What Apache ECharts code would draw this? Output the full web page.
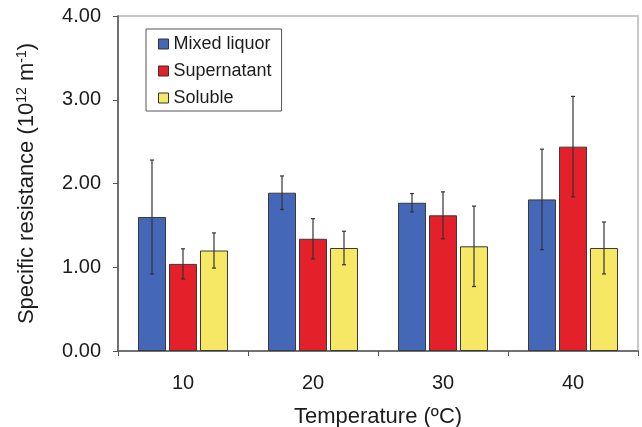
<!DOCTYPE html>
<html>
<head>
<meta charset="utf-8">
<script src="https://cdn.jsdelivr.net/npm/echarts@6/dist/echarts.min.js"></script>
<style>
  html, body { margin: 0; padding: 0; background: #fff; }
  #chart { width: 642px; height: 427px; }
</style>
</head>
<body>
<div id="chart"></div>
<script>
// Specific resistance by temperature, three fractions, with ± error bars
const categories = ['10', '20', '30', '40'];
const seriesNames = ['Mixed liquor', 'Supernatant', 'Soluble'];
const mixedLiquor = [1.60, 1.89, 1.77, 1.81];
const supernatant = [1.04, 1.34, 1.62, 2.44];
const soluble = [1.20, 1.23, 1.25, 1.23];
const mixedLiquorErr = [0.68, 0.20, 0.11, 0.60];
const supernatantErr = [0.18, 0.24, 0.28, 0.60];
const solubleErr = [0.21, 0.20, 0.48, 0.31];
const yTicks = [0, 1, 2, 3, 4];

const colors = ['#4467b8', '#e4202a', '#f6e865'];
const values = [mixedLiquor, supernatant, soluble];
const errors = [mixedLiquorErr, supernatantErr, solubleErr];

const BAR_W = 28;
const BAR_GAP = 3;
const FONT = 'Liberation Sans, Arial, sans-serif';
const INK = '#1c1c1c';

function errorSeries(k) {
  const data = categories.map((c, i) => [i, values[k][i] - errors[k][i], values[k][i] + errors[k][i]]);
  return {
    type: 'custom',
    name: seriesNames[k] + ' error',
    z: 10,
    silent: true,
    data: data,
    encode: { x: 0, y: [1, 2] },
    renderItem: function (params, api) {
      const lo = api.coord([api.value(0), api.value(1)]);
      const hi = api.coord([api.value(0), api.value(2)]);
      const x = lo[0] + (k - 1) * (BAR_W + BAR_GAP);
      const cap = 2;
      const style = { stroke: '#333', lineWidth: 1.2 };
      return {
        type: 'group',
        children: [
          { type: 'line', shape: { x1: x, y1: hi[1], x2: x, y2: lo[1] }, style: style },
          { type: 'line', shape: { x1: x - cap, y1: hi[1], x2: x + cap, y2: hi[1] }, style: style },
          { type: 'line', shape: { x1: x - cap, y1: lo[1], x2: x + cap, y2: lo[1] }, style: style }
        ]
      };
    }
  };
}

const barSeries = seriesNames.map((name, k) => ({
  type: 'bar',
  name: name,
  data: values[k],
  barWidth: BAR_W,
  barGap: (BAR_GAP / BAR_W * 100).toFixed(1) + '%',
  itemStyle: { color: colors[k], borderColor: '#3a3a3a', borderWidth: 1 }
}));

const chart = echarts.init(document.getElementById('chart'), null, { renderer: 'canvas' });
chart.setOption({
  animation: false,
  backgroundColor: '#fff',
  textStyle: { fontFamily: FONT, color: INK },
  grid: {
    left: 118, right: 4, top: 16, bottom: 76,
    containLabel: false,
    outerBoundsMode: 'none',
    show: true, borderColor: '#c8c8c8', borderWidth: 2, backgroundColor: 'transparent'
  },
  legend: {
    data: seriesNames,
    orient: 'vertical',
    left: 146, top: 29,
    icon: 'rect',
    itemWidth: 10, itemHeight: 10,
    itemGap: 7,
    padding: [5, 10, 3, 12],
    borderColor: '#555', borderWidth: 1,
    backgroundColor: '#fff',
    textStyle: { fontFamily: FONT, fontSize: 18, color: INK, lineHeight: 20 },
    itemStyle: { borderColor: '#333', borderWidth: 1 }
  },
  xAxis: {
    type: 'category',
    data: categories,
    axisLine: { lineStyle: { color: '#555', width: 1.5 } },
    axisTick: { show: true, length: 5, lineStyle: { color: '#555' } },
    axisLabel: { fontFamily: FONT, fontSize: 20, color: INK, margin: 22 },
    name: 'Temperature (ºC)',
    nameLocation: 'middle',
    nameGap: 55,
    nameTextStyle: { fontFamily: FONT, fontSize: 22, color: INK }
  },
  yAxis: {
    type: 'value',
    min: 0, max: 4, interval: 1,
    splitLine: { show: false },
    axisLine: { show: true, lineStyle: { color: '#555', width: 1.5 } },
    axisTick: { show: true, length: 5, lineStyle: { color: '#555' } },
    axisLabel: {
      fontFamily: FONT, fontSize: 20, color: INK, margin: 17,
      formatter: v => yTicks.includes(v) ? v.toFixed(2) : ''
    },
    name: '{a|Specific resistance (10}{s|12}{a| m}{s|-1}{a|)}',
    nameLocation: 'middle',
    nameRotate: 90,
    nameGap: 79,
    nameTextStyle: {
      rich: {
        a: { fontFamily: FONT, fontSize: 22, color: INK },
        s: { fontFamily: FONT, fontSize: 14, color: INK, verticalAlign: 'top', padding: [0, 0, 10, 0] }
      }
    }
  },
  series: barSeries.concat([0, 1, 2].map(errorSeries))
});
</script>
</body>
</html>
